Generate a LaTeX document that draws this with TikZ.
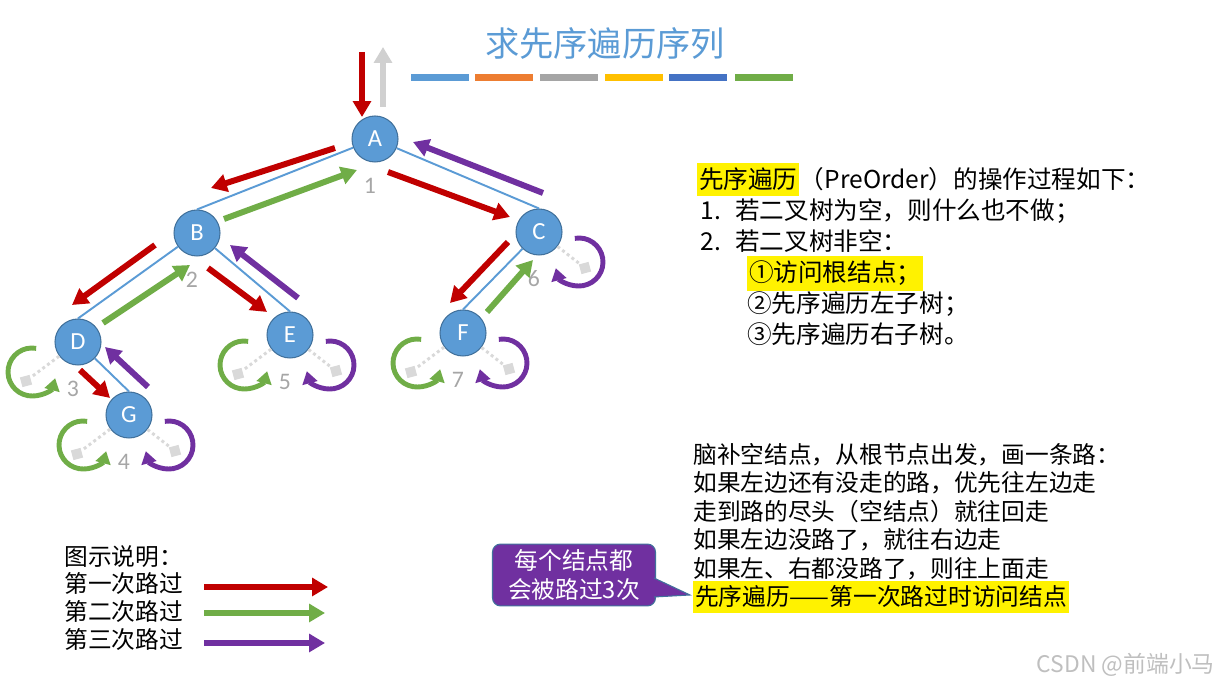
\documentclass[tikz,border=0pt]{standalone}
\usepackage{fontspec}
\setmainfont{Carlito}
\newfontfamily\cjk{Noto Sans CJK SC}
\usepackage{tikz}
\usetikzlibrary{arrows.meta}

\definecolor{nodeblue}{HTML}{5B9BD5}
\definecolor{rimblue}{HTML}{41719C}
\definecolor{firstred}{HTML}{C00000}
\definecolor{secondgreen}{HTML}{70AD47}
\definecolor{thirdpurple}{HTML}{7030A0}
\definecolor{barorange}{HTML}{ED7D31}
\definecolor{bargray}{HTML}{A5A5A5}
\definecolor{baryellow}{HTML}{FFC000}
\definecolor{bardark}{HTML}{4472C4}
\definecolor{numgray}{HTML}{A6A6A6}
\definecolor{nullgray}{HTML}{D9D9D9}
\definecolor{upgray}{HTML}{D0D0D0}

\tikzset{
  tnode/.style={circle,fill=nodeblue,draw=rimblue,line width=0.6pt,minimum size=0.92cm,
    inner sep=0pt,text=white,font=\fontsize{14}{14}\selectfont},
  edge/.style={nodeblue,line width=1.1pt},
  pass/.style={line width=3.4pt,-{Triangle[length=9pt,width=10pt]}},
  first/.style={pass,firstred},
  second/.style={pass,secondgreen},
  third/.style={pass,thirdpurple},
  loopy/.style={line width=2.8pt,-{Triangle[length=7pt,width=8.5pt]}},
  nullbox/.style={fill=nullgray,minimum size=0.2cm,inner sep=0pt,rotate=15},
  nulllink/.style={nullgray,line width=1.7pt,dash pattern=on 1.7pt off 1.7pt},
  num/.style={text=numgray,font=\fontsize{13.5}{13.5}\selectfont,inner sep=0pt},
  rtxt/.style={font=\cjk\fontsize{14}{17}\selectfont,inner sep=0pt,anchor=base west},
  ltxt/.style={font=\cjk\fontsize{13.5}{16}\selectfont,inner sep=0pt,anchor=base west},
  hl/.style={fill=yellow,inner xsep=1pt,inner ysep=3pt},
  callbox/.style={fill=thirdpurple,draw=rimblue,line width=0.6pt,rounded corners=0.16cm,
    minimum width=3.26cm,minimum height=1.2cm,text=white,align=center,
    font=\cjk\fontsize{13.5}{16}\selectfont}
}

\begin{document}
\begin{tikzpicture}[x=0.02cm,y=0.02cm]
  \useasboundingbox (0,0) rectangle (1225,-688);

  % title and colour bars
  \node[font=\cjk\fontsize{19.5}{20}\selectfont,text=nodeblue] (title) at (605,-43) {求先序遍历序列};
  \foreach \x/\c in {411/nodeblue,475/barorange,540/bargray,605/baryellow,669/bardark,735/secondgreen}
    \fill[\c] (\x,-74) rectangle ++(58,-7);

  % tree
  \node[tnode] (A) at (375,-139) {A};
  \node[tnode] (B) at (197,-233) {B};
  \node[tnode] (C) at (539,-232) {C};
  \node[tnode] (D) at (78,-342) {D};
  \node[tnode] (E) at (290,-335) {E};
  \node[tnode] (F) at (463,-333) {F};
  \node[tnode] (G) at (129,-415) {G};
  \foreach \p/\c in {A/B,A/C,B/D,B/E,C/F,D/G}
    \draw[edge] (\p) -- (\c.north);
  \foreach \n/\k in {A/1,B/2,D/3,G/4,E/5,C/6,F/7}
    \node[num] (n\k) at ([shift={(-5,-47)}]\n.center) {\k};

  % empty children
  \foreach \n in {D,G,E,F} {
    \node[nullbox] (l\n) at ([shift={(-52,-39)}]\n.center) {};
    \draw[nulllink] (\n) -- (l\n);
    \draw[loopy,secondgreen] ([shift={(-46,-30)}]\n.center) ++(80:0.48cm)
      arc[start angle=80,end angle=345,radius=0.48cm];
  }
  \foreach \n in {C,G,E,F} {
    \node[nullbox] (r\n) at ([shift={(46,-36)}]\n.center) {};
    \draw[nulllink] (\n) -- (r\n);
    \draw[loopy,thirdpurple] ([shift={(40,-30)}]\n.center) ++(100:0.48cm)
      arc[start angle=100,end angle=-165,radius=0.48cm];
  }

  % walk along the tree
  \draw[pass,upgray] (383,-107) -- (383,-47);
  \foreach \xa/\ya/\xb/\yb in {362/52/362/117,335/148/211/188,388/172/510/217,155/245/72/305,
      208/268/267/312,508/242/450/303,80/370/110/398}
    \draw[first] (\xa,-\ya) -- (\xb,-\yb);
  \foreach \xa/\ya/\xb/\yb in {224/219/357/170,103/323/190/265,487/312/533/260}
    \draw[second] (\xa,-\ya) -- (\xb,-\yb);
  \foreach \xa/\ya/\xb/\yb in {543/193/413/142,298/298/230/245,148/387/105/347}
    \draw[third] (\xa,-\ya) -- (\xb,-\yb);

  % steps of preorder
  \node[rtxt,hl] (p1) at (697,-189) {先序遍历};
  \node[rtxt] (p1b) at (p1.base east) {（PreOrder）的操作过程如下：};
  \node[rtxt] (p2) at (700,-220) {1.};
  \node[rtxt] (p2b) at (735,-220) {若二叉树为空，则什么也不做；};
  \node[rtxt] (p3) at (700,-251) {2.};
  \node[rtxt] (p3b) at (735,-251) {若二叉树非空：};
  \node[rtxt,hl] (p4) at (747,-282) {①访问根结点；};
  \node[rtxt] (p5) at (747,-313) {②先序遍历左子树；};
  \node[rtxt] (p6) at (747,-344) {③先序遍历右子树。};

  % how to walk
  \node[ltxt] (q1) at (693,-464) {脑补空结点，从根节点出发，画一条路：};
  \node[ltxt] (q2) at (693,-492) {如果左边还有没走的路，优先往左边走};
  \node[ltxt] (q3) at (693,-521) {走到路的尽头（空结点）就往回走};
  \node[ltxt] (q4) at (693,-549) {如果左边没路了，就往右边走};
  \node[ltxt] (q5) at (693,-578) {如果左、右都没路了，则往上面走};
  \node[ltxt,hl] (q6) at (693,-606) {先序遍历——第一次路过时访问结点};

  % callout
  \node[callbox] (cb) at (574,-575) {每个结点都\\会被路过3次};
  \coordinate (tip) at (690,-595);
  \draw[rimblue,line width=0.6pt,fill=thirdpurple] ([shift={(-2,-3)}]cb.east) -- (tip)
    -- ([shift={(-2,-22)}]cb.east);

  % legend
  \node[ltxt] (g0) at (64,-566) {图示说明：};
  \node[ltxt] (g1) at (64,-593) {第一次路过};
  \node[ltxt] (g2) at (64,-621) {第二次路过};
  \node[ltxt] (g3) at (64,-649) {第三次路过};
  \draw[first] (204,-587) -- (328,-587);
  \draw[second] (204,-613) -- (325,-613);
  \draw[third] (204,-643) -- (325,-643);

  \node[font=\cjk\fontsize{13}{13}\selectfont,text=black!25,anchor=east] (mark) at (1221,-665) {CSDN @前端小马};
\end{tikzpicture}
\end{document}
